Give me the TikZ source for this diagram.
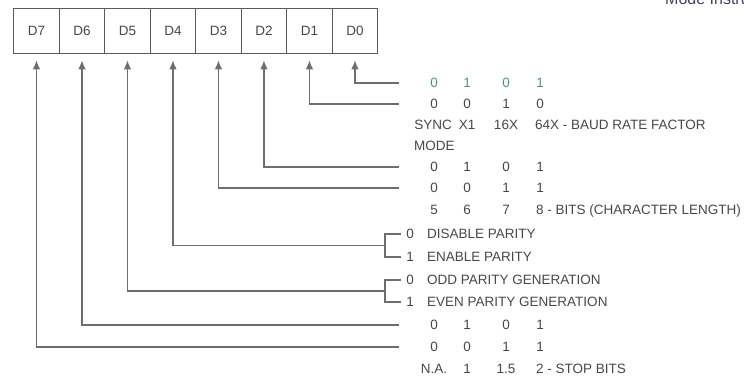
\documentclass[tikz,border=0pt]{standalone}
\usepackage{fontspec}
\setmainfont{Liberation Sans}
\usetikzlibrary{arrows.meta}
\definecolor{ink}{HTML}{474747}
\definecolor{wire}{HTML}{6E6E6E}
\definecolor{tealink}{HTML}{4E9090}
\definecolor{boxc}{HTML}{5A5A5A}
\definecolor{topink}{HTML}{4A3E5E}
\begin{document}
\begin{tikzpicture}[x=1pt,y=-1pt,
  font=\fontsize{13.5}{15}\selectfont,
  bitbox/.style={draw=boxc, line width=1.4pt, minimum width=45.5pt, minimum height=45pt,
    inner sep=0pt, text=ink, anchor=north west},
  wirec/.style={draw=wire, line width=1.1pt},
  arr/.style={wirec, -{Latex[length=9pt,width=7.5pt]}, shorten >=6pt},
  val/.style={text=ink, inner sep=0pt, anchor=base},
  valw/.style={text=ink, inner sep=0pt, anchor=base west}]
\useasboundingbox (0,0) rectangle (744,375);
% clipped heading fragment (cut off at the top edge, as in the reference)
\begin{scope}
\clip (0,0) rectangle (744,375);
\node[text=topink, inner sep=0pt, anchor=base west, font=\fontsize{16}{18}\selectfont] (hd) at (665,4) {Mode Instruction};
\end{scope}
% register boxes
\foreach \i/\n in {0/7,1/6,2/5,3/4,4/3,5/2,6/1,7/0}
  \node[bitbox] (b\n) at ({13+45.5*\i},8) {D\n};
% connector ends
\coordinate (e0) at (399,83);
\coordinate (e1) at (399,104);
\coordinate (e2) at (399,167);
\coordinate (e3) at (399,188);
\coordinate (e4) at (385,245.5);
\coordinate (e5) at (385,291);
\coordinate (e6) at (399,325);
\coordinate (e7) at (399,347);
\foreach \n in {0,...,7}
  \draw[arr] (e\n) -| (b\n.south);
% brackets
\coordinate (k4a) at (401,234); \coordinate (k4b) at (385,234);
\coordinate (k4c) at (385,257); \coordinate (k4d) at (401,257);
\draw[wirec] (k4a) -- (k4b) -- (k4c) -- (k4d);
\coordinate (k5a) at (401,280); \coordinate (k5b) at (385,280);
\coordinate (k5c) at (385,302); \coordinate (k5d) at (401,302);
\draw[wirec] (k5a) -- (k5b) -- (k5c) -- (k5d);
% D0 row
\node[val, text=tealink] (r0a) at (434,87.7) {0};
\node[val, text=tealink] (r0b) at (467,87.7) {1};
\node[val, text=tealink] (r0c) at (506,87.7) {0};
\node[val, text=tealink] (r0d) at (540,87.7) {1};
% D1 row
\node[val] (r1a) at (434,108.7) {0};
\node[val] (r1b) at (467,108.7) {0};
\node[val] (r1c) at (506,108.7) {1};
\node[val] (r1d) at (540,108.7) {0};
% baud rate
\node[val] (sa) at (433,129.7) {SYNC};
\node[val] (sb) at (467,129.7) {X1};
\node[val] (sc) at (506,129.7) {16X};
\node[valw] (sd) at (535,129.7) {64X - BAUD RATE FACTOR};
\node[valw] (sm) at (414,150.7) {MODE};
% D2 row
\node[val] (r2a) at (434,171.7) {0};
\node[val] (r2b) at (467,171.7) {1};
\node[val] (r2c) at (506,171.7) {0};
\node[val] (r2d) at (540,171.7) {1};
% D3 row
\node[val] (r3a) at (434,192.7) {0};
\node[val] (r3b) at (467,192.7) {0};
\node[val] (r3c) at (506,192.7) {1};
\node[val] (r3d) at (540,192.7) {1};
% character length
\node[val] (la) at (434,214.7) {5};
\node[val] (lb) at (467,214.7) {6};
\node[val] (lc) at (506,214.7) {7};
\node[valw] (ld) at (536,214.7) {8 - BITS (CHARACTER LENGTH)};
% parity
\node[val] (pa0) at (410,238.7) {0};
\node[valw] (pa) at (427,238.7) {DISABLE PARITY};
\node[val] (pb0) at (410,261.7) {1};
\node[valw] (pb) at (427,261.7) {ENABLE PARITY};
\node[val] (pc0) at (410,284.7) {0};
\node[valw] (pc) at (427,284.7) {ODD PARITY GENERATION};
\node[val] (pd0) at (410,306.7) {1};
\node[valw] (pd) at (427,306.7) {EVEN PARITY GENERATION};
% D6 row
\node[val] (r6a) at (434,329.7) {0};
\node[val] (r6b) at (467,329.7) {1};
\node[val] (r6c) at (506,329.7) {0};
\node[val] (r6d) at (540,329.7) {1};
% D7 row
\node[val] (r7a) at (434,351.7) {0};
\node[val] (r7b) at (467,351.7) {0};
\node[val] (r7c) at (506,351.7) {1};
\node[val] (r7d) at (540,351.7) {1};
% stop bits
\node[val] (ta) at (434,373.5) {N.A.};
\node[val] (tb) at (467,373.5) {1};
\node[val] (tc) at (506,373.5) {1.5};
\node[valw] (td) at (536,373.5) {2 - STOP BITS};
\end{tikzpicture}
\end{document}
